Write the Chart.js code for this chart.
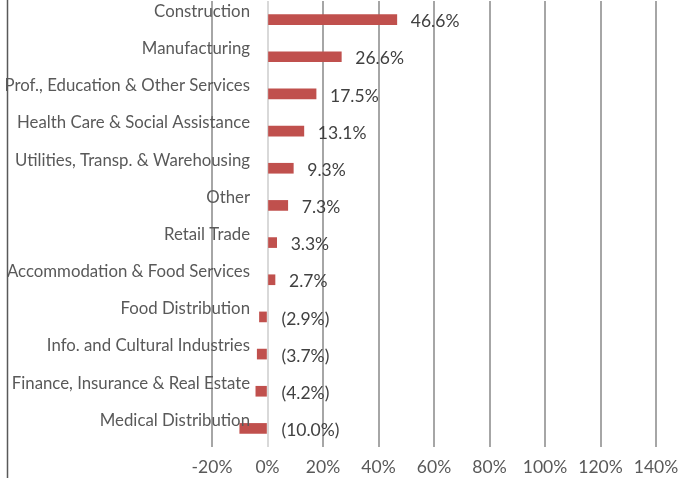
<html>
<head>
    <script src="https://cdn.jsdelivr.net/npm/chart.js@4.4.1/dist/chart.umd.min.js"></script>
    <style>
        body { margin: 0; background: #fff; }
    </style>
</head>

<body>
    <canvas id="myChart" width="681" height="478"></canvas>
    <script>
        const sectors = ['Construction', 'Manufacturing', 'Prof., Education & Other Services',
            'Health Care & Social Assistance', 'Utilities, Transp. & Warehousing', 'Other',
            'Retail Trade', 'Accommodation & Food Services', 'Food Distribution',
            'Info. and Cultural Industries', 'Finance, Insurance & Real Estate', 'Medical Distribution']
        const growth = [46.6, 26.6, 17.5, 13.1, 9.3, 7.3, 3.3, 2.7, -2.9, -3.7, -4.2, -10.0]
        const xTicks = [-20, 0, 20, 40, 60, 80, 100, 120, 140]

        const NUM_FONT = '17.5px Lato'
        const CAT_FONT = '16.8px Lato'
        Chart.defaults.font.family = 'Lato'
        Chart.defaults.font.size = 17.5
        Chart.defaults.color = '#595959'

        function fmt(v) {
            return v < 0 ? '(' + Math.abs(v).toFixed(1) + '%)' : v.toFixed(1) + '%'
        }

        // category names, right aligned a bit inside the plot, above each bar
        const categoryLabels = {
            id: 'categoryLabels',
            afterDraw(chart) {
                const ctx = chart.ctx
                const ys = chart.scales.y
                const right = chart.scales.x.getPixelForValue(-20) + 38
                ctx.save()
                ctx.font = CAT_FONT
                ctx.fillStyle = '#595959'
                ctx.textAlign = 'right'
                ctx.textBaseline = 'middle'
                sectors.forEach((s, i) => {
                    ctx.fillText(s, right, ys.getPixelForTick(i) - 8)
                })
                ctx.restore()
            }
        }

        // value labels next to each bar
        const valueLabels = {
            id: 'valueLabels',
            afterDatasetsDraw(chart) {
                const ctx = chart.ctx
                const xs = chart.scales.x
                const zero = xs.getPixelForValue(0)
                ctx.save()
                ctx.font = NUM_FONT
                ctx.fillStyle = '#404040'
                ctx.textAlign = 'left'
                ctx.textBaseline = 'middle'
                chart.getDatasetMeta(0).data.forEach((bar, i) => {
                    const v = growth[i]
                    const x = v >= 0 ? bar.x + 14 : zero + 14
                    ctx.fillText(fmt(v), x, bar.y + 2)
                })
                ctx.restore()
            }
        }

        // thin frame line on the left edge
        const leftEdge = {
            id: 'leftEdge',
            beforeDraw(chart) {
                const ctx = chart.ctx
                ctx.save()
                ctx.strokeStyle = '#595959'
                ctx.lineWidth = 1.5
                ctx.beginPath()
                ctx.moveTo(7.5, 0)
                ctx.lineTo(7.5, chart.height)
                ctx.stroke()
                ctx.restore()
            }
        }

        const ctx = document.getElementById('myChart').getContext('2d')
        const myChart = new Chart(ctx, {
            type: 'bar',
            data: {
                labels: sectors,
                datasets: [{
                    data: growth,
                    backgroundColor: '#C0504D',
                    barThickness: 10
                }]
            },
            options: {
                indexAxis: 'y',
                responsive: false,
                animation: false,
                layout: { padding: { top: 1, right: 25, left: 0, bottom: 0 } },
                plugins: {
                    legend: { display: false },
                    tooltip: { enabled: false }
                },
                scales: {
                    x: {
                        min: -20,
                        max: 140,
                        afterBuildTicks(scale) {
                            scale.ticks = xTicks.map(v => ({ value: v }))
                        },
                        afterFit(scale) {
                            scale.height = 31
                            scale.paddingRight = 0
                        },
                        border: { display: false },
                        grid: {
                            drawTicks: false,
                            lineWidth: 2,
                            color: c => c.tick && c.tick.value === 0 ? '#d9d9d9' : '#a6a6a6'
                        },
                        ticks: {
                            padding: 10,
                            color: '#595959',
                            callback: v => v + '%'
                        }
                    },
                    y: {
                        afterFit(scale) { scale.width = 212 },
                        border: { display: false },
                        grid: { display: false, drawTicks: false },
                        ticks: { display: false }
                    }
                }
            },
            plugins: [valueLabels, categoryLabels, leftEdge]
        })
    </script>
</body>

</html>
